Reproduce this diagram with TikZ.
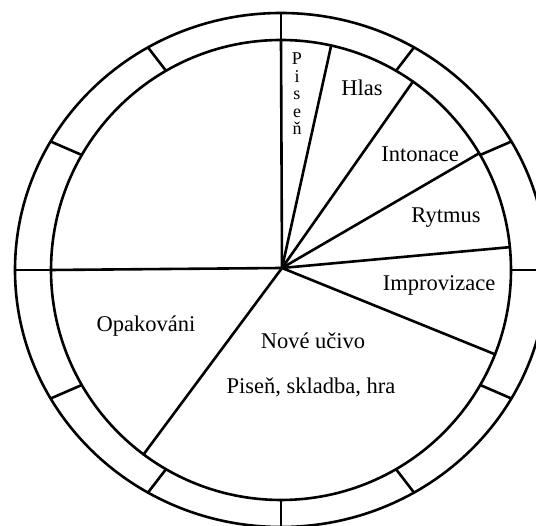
\documentclass[tikz,border=0pt]{standalone}
\usepackage{fontspec}
\setmainfont{Liberation Serif}
\usetikzlibrary{calc}
\begin{document}
\begin{tikzpicture}[x=1pt,y=1pt,
  ln/.style={line width=2.6pt,line cap=round},
  lbl/.style={inner sep=0pt,font=\fontsize{22.5}{26}\selectfont}]
\useasboundingbox (0,0) rectangle (536,526);
\clip (0,0) rectangle (536,526);
\coordinate (C) at (281,256);
\coordinate (H) at (282,258);
% circles
\draw[ln] (C) circle[radius=230];
\draw[ln] (C) ellipse[x radius=266,y radius=257];
% ring ticks every 30 degrees
\foreach \a in {0,30,...,330}{
  \coordinate (ri\a) at ($(C)+(\a:230)$);
  \coordinate (ro\a) at ($(C)+({266*cos(\a)},{257*sin(\a)})$);
  \draw[ln] (ri\a) -- (ro\a);
}
% spokes from hub
\foreach \a/\n in {90/s1,77.4/s2,55/s3,30.5/s4,5.7/s5,-21.5/s6,233.3/s7,180/s8}{
  \coordinate (\n) at ($(C)+(\a:230)$);
  \draw[ln] (H) -- (\n);
}
% labels
\node[lbl,align=center,font=\fontsize{18}{17.5}\selectfont] (pisen) at (297,432) {P\\i\\s\\e\\ň};
\node[lbl] (hlas) at (362,438) {Hlas};
\node[lbl] (inton) at (420,372) {Intonace};
\node[lbl] (rytmus) at (446,308) {Rytmus};
\node[lbl] (improv) at (439,241) {Improvizace};
\node[lbl] (opak) at (146,200) {Opakováni};
\node[lbl] (nove) at (313,185) {Nové učivo};
\node[lbl] (pisen2) at (311,139) {Piseň, skladba, hra};
\end{tikzpicture}
\end{document}
